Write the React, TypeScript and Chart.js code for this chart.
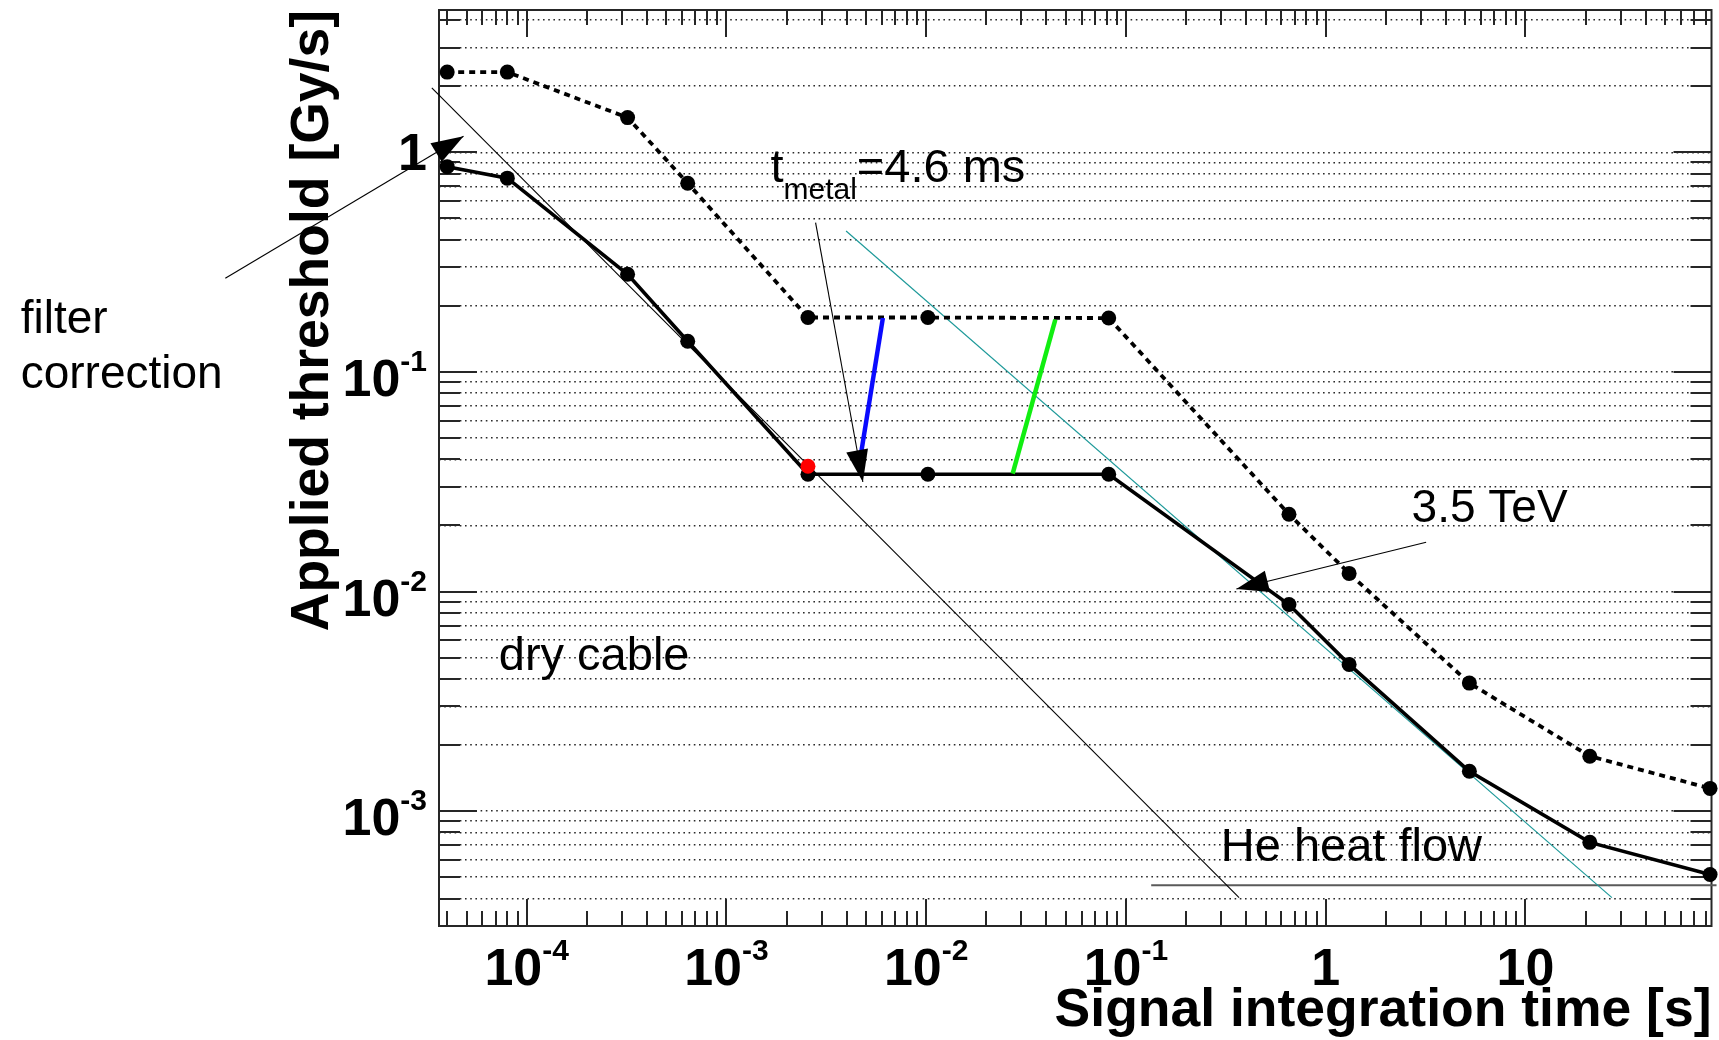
import { useEffect, useRef } from 'react';
import { Chart, registerables } from 'chart.js';

Chart.register(...registerables);

// ---------- data ----------
const integrationTimes = [4e-5, 8e-5, 3.2e-4, 6.4e-4, 2.56e-3, 1.02e-2, 8.2e-2, 0.655, 1.31, 5.24, 21, 84];
const thresholdDashed = [2.32, 2.32, 1.44, 0.724, 0.177, 0.177, 0.176, 0.0225, 0.0121, 0.00383, 0.00178, 0.00127];
const thresholdSolid = [0.861, 0.763, 0.2785, 0.138, 0.0342, 0.0342, 0.0342, 0.00873, 0.00466, 0.00152, 0.000721, 0.000515];
const redPointTime = [2.56e-3];
const redPointValue = [0.0372];

const xTickValues = [1e-4, 1e-3, 1e-2, 1e-1, 1, 10];
const xTickLabels = ['10^-4', '10^-3', '10^-2', '10^-1', '1', '10'];
const yTickValues = [1e-3, 1e-2, 1e-1, 1];
const yTickLabels = ['10^-3', '10^-2', '10^-1', '1'];

const X_MIN = 3.64e-5;
const X_MAX = 85.4;
const Y_MIN = 3.19e-4;
const Y_MAX = 4.45;

// annotation lines (data coordinates)
const dryCableLine = [{ x: 3.35e-5, y: 1.968 }, { x: 0.3685, y: 4.04e-4 }];
const heFlowLine = [{ x: 3.972e-3, y: 0.4386 }, { x: 27.1, y: 4.04e-4 }];
const blueLine = [{ x: 6.07e-3, y: 0.1761 }, { x: 4.73e-3, y: 0.0431 }];
const greenLine = [{ x: 0.04431, y: 0.173 }, { x: 0.0271, y: 0.03441 }];
const grayLine = [{ x: 0.1338, y: 4.6e-4 }, { x: 90.5, y: 4.6e-4 }];
const arrows = [
  { from: { x: 3.1e-6, y: 0.267 }, to: { x: 4.83e-5, y: 1.185 } },
  { from: { x: 2.795e-3, y: 0.4787 }, to: { x: 4.82e-3, y: 0.03155 } },
  { from: { x: 3.184, y: 0.01677 }, to: { x: 0.3573, y: 0.01027 } },
];
const textLabels = [
  { text: 'filter', x: 2.93e-7, y: 0.1505, size: 46 },
  { text: 'correction', x: 2.93e-7, y: 0.0848, size: 46 },
  { text: 'dry cable', x: 7.25e-5, y: 4.4e-3, size: 47 },
  { text: 'He heat flow', x: 0.2985, y: 5.95e-4, size: 47 },
  { text: '3.5 TeV', x: 2.692, y: 0.0207, size: 46 },
];
const tMetalLabel = { main: 't', sub: 'metal', rest: '=4.6 ms', x: 1.66e-3, y: 0.7315 };

// ---------- helpers ----------
const FONT = '"Liberation Sans", Arial, Helvetica, sans-serif';

function logGrid(min: number, max: number) {
  const out: number[] = [];
  for (let e = -8; e <= 3; e++) {
    for (let m = 1; m <= 9; m++) {
      const v = m * Math.pow(10, e);
      if (v >= min * 1.0001 && v <= max / 1.0001) out.push(v);
    }
  }
  return out;
}
const isDecade = (v: number) => Math.abs(Math.log10(v) - Math.round(Math.log10(v))) < 1e-6;

function toPts(xs: number[], ys: number[]) {
  return xs.map((x, i) => ({ x, y: ys[i] }));
}

function drawPowLabel(ctx: CanvasRenderingContext2D, label: string, x: number, y: number, align: 'center' | 'right') {
  const [base, exp] = label.split('^');
  const baseFont = `bold 52px ${FONT}`;
  const supFont = `bold 30px ${FONT}`;
  ctx.font = baseFont;
  const wb = ctx.measureText(base).width;
  let we = 0;
  if (exp) {
    ctx.font = supFont;
    we = ctx.measureText(exp).width;
  }
  const total = wb + we;
  const x0 = align === 'center' ? x - total / 2 : x - total;
  ctx.textAlign = 'left';
  ctx.textBaseline = 'alphabetic';
  ctx.font = baseFont;
  ctx.fillText(base, x0, y);
  if (exp) {
    ctx.font = supFont;
    ctx.fillText(exp, x0 + wb, y - 25);
  }
}

const rootStylePlugin = {
  id: 'rootStyle',
  beforeDatasetsDraw(chart: any) {
    const { ctx, chartArea, scales } = chart;
    const { left, right, top, bottom } = chartArea;
    ctx.save();
    ctx.strokeStyle = '#262626';
    ctx.lineWidth = 2;
    for (const t of scales.y.ticks) {
      const py = Math.round(scales.y.getPixelForValue(t.value));
      const len = isDecade(t.value) ? 38 : 21;
      ctx.beginPath();
      ctx.moveTo(left, py);
      ctx.lineTo(left + len, py);
      ctx.moveTo(right, py);
      ctx.lineTo(right - len, py);
      ctx.stroke();
    }
    for (const t of scales.x.ticks) {
      const px = Math.round(scales.x.getPixelForValue(t.value));
      const len = isDecade(t.value) ? 27 : 15;
      ctx.beginPath();
      ctx.moveTo(px, bottom);
      ctx.lineTo(px, bottom - len);
      ctx.moveTo(px, top);
      ctx.lineTo(px, top + len);
      ctx.stroke();
    }
    ctx.strokeRect(left, top, right - left, bottom - top);
    ctx.restore();
  },
  afterDatasetsDraw(chart: any) {
    const { ctx, scales } = chart;
    ctx.save();
    ctx.fillStyle = '#000';
    for (const a of arrows) {
      const fx = scales.x.getPixelForValue(a.from.x);
      const fy = scales.y.getPixelForValue(a.from.y);
      const tx = scales.x.getPixelForValue(a.to.x);
      const ty = scales.y.getPixelForValue(a.to.y);
      const dx = tx - fx;
      const dy = ty - fy;
      const d = Math.hypot(dx, dy);
      const ux = dx / d;
      const uy = dy / d;
      const L = 32;
      const W = 11;
      const bx = tx - ux * L;
      const by = ty - uy * L;
      ctx.beginPath();
      ctx.moveTo(tx, ty);
      ctx.lineTo(bx - uy * W, by + ux * W);
      ctx.lineTo(bx + uy * W, by - ux * W);
      ctx.closePath();
      ctx.fill();
    }
    ctx.restore();
  },
  afterDraw(chart: any) {
    const { ctx, chartArea, scales } = chart;
    ctx.save();
    ctx.fillStyle = '#000';
    xTickValues.forEach((v, i) => {
      const px = scales.x.getPixelForValue(v);
      drawPowLabel(ctx, xTickLabels[i], px, chartArea.bottom + 59, 'center');
    });
    yTickValues.forEach((v, i) => {
      const py = scales.y.getPixelForValue(v);
      const hasExp = yTickLabels[i].includes('^');
      drawPowLabel(ctx, yTickLabels[i], chartArea.left - 12, py + (hasExp ? 24 : 18), 'right');
    });
    ctx.textAlign = 'left';
    ctx.textBaseline = 'alphabetic';
    for (const t of textLabels) {
      ctx.font = `${t.size}px ${FONT}`;
      ctx.fillText(t.text, scales.x.getPixelForValue(t.x), scales.y.getPixelForValue(t.y));
    }
    const mx = scales.x.getPixelForValue(tMetalLabel.x);
    const my = scales.y.getPixelForValue(tMetalLabel.y);
    ctx.font = `47px ${FONT}`;
    ctx.fillText(tMetalLabel.main, mx, my);
    const w1 = ctx.measureText(tMetalLabel.main).width;
    ctx.font = `30px ${FONT}`;
    ctx.fillText(tMetalLabel.sub, mx + w1, my + 17);
    const w2 = ctx.measureText(tMetalLabel.sub).width;
    ctx.font = `47px ${FONT}`;
    ctx.fillText(tMetalLabel.rest, mx + w1 + w2, my);
    ctx.restore();
  },
};

export default function App() {
  const canvasRef = useRef<HTMLCanvasElement | null>(null);

  useEffect(() => {
    document.body.style.margin = '0';
    const canvas = canvasRef.current;
    if (!canvas) return;

    const thinLine = (data: any[], color: string, width: number, order: number) => ({
      data,
      borderColor: color,
      borderWidth: width,
      pointRadius: 0,
      showLine: true,
      fill: false,
      clip: false,
      order,
    });

    const chart = new Chart(canvas, {
      type: 'line',
      data: {
        datasets: [
          {
            data: toPts(redPointTime, redPointValue),
            showLine: false,
            pointRadius: 7.5,
            pointBackgroundColor: '#ff0000',
            pointBorderWidth: 0,
            clip: false,
            order: 0,
          } as any,
          {
            data: toPts(integrationTimes, thresholdSolid),
            borderColor: '#000',
            borderWidth: 3.6,
            pointRadius: 7.5,
            pointBackgroundColor: '#000',
            pointBorderWidth: 0,
            clip: false,
            order: 2,
          },
          {
            data: toPts(integrationTimes, thresholdDashed),
            borderColor: '#000',
            borderWidth: 3.8,
            borderDash: [6, 5],
            pointRadius: 7.5,
            pointBackgroundColor: '#000',
            pointBorderWidth: 0,
            clip: false,
            order: 3,
          },
          thinLine(blueLine, '#0a0aff', 4.5, 1),
          thinLine(greenLine, '#11ee11', 4.5, 1),
          thinLine(dryCableLine, '#000', 1.1, 4),
          thinLine(heFlowLine, '#1f9a9a', 1.2, 4),
          thinLine(grayLine, '#5a5a5a', 2, 5),
          ...arrows.map((a) => thinLine([a.from, a.to], '#000', 1.1, 4)),
        ] as any,
      },
      options: {
        responsive: false,
        maintainAspectRatio: false,
        animation: false,
        events: [],
        layout: { padding: { left: 0, top: 10, right: 6, bottom: 0 } },
        plugins: {
          legend: { display: false },
          tooltip: { enabled: false },
          title: { display: false },
        },
        elements: { line: { tension: 0, borderCapStyle: 'butt' } },
        scales: {
          x: {
            type: 'logarithmic',
            min: X_MIN,
            max: X_MAX,
            grid: { display: false },
            border: { display: false },
            ticks: { display: false },
            afterBuildTicks: (s: any) => {
              s.ticks = logGrid(X_MIN, X_MAX).map((v) => ({ value: v }));
            },
            afterFit: (s: any) => {
              s.height = 114;
            },
            title: {
              display: true,
              text: 'Signal integration time [s]',
              align: 'end',
              color: '#000',
              font: { family: FONT, size: 53.5, weight: 'bold', lineHeight: 1 },
              padding: { top: 0, bottom: 2 },
            },
          },
          y: {
            type: 'logarithmic',
            min: Y_MIN,
            max: Y_MAX,
            grid: { color: '#2a2a2a', lineWidth: 1.6, drawTicks: false },
            border: { display: false, dash: [1.6, 3.6] },
            ticks: { display: false },
            afterBuildTicks: (s: any) => {
              s.ticks = logGrid(Y_MIN, Y_MAX).map((v) => ({ value: v }));
            },
            afterFit: (s: any) => {
              s.width = 439;
            },
            title: {
              display: true,
              text: 'Applied threshold [Gy/s]',
              align: 'end',
              color: '#000',
              font: { family: FONT, size: 53.5, weight: 'bold', lineHeight: 1 },
              padding: { top: 286.5, bottom: 0 },
            },
          },
        },
      } as any,
      plugins: [rootStylePlugin],
    });

    return () => chart.destroy();
  }, []);

  return (
    <div style={{ width: 1719, height: 1040, position: 'relative', background: '#fff' }}>
      <canvas ref={canvasRef} width={1719} height={1040} style={{ display: 'block' }} />
    </div>
  );
}
